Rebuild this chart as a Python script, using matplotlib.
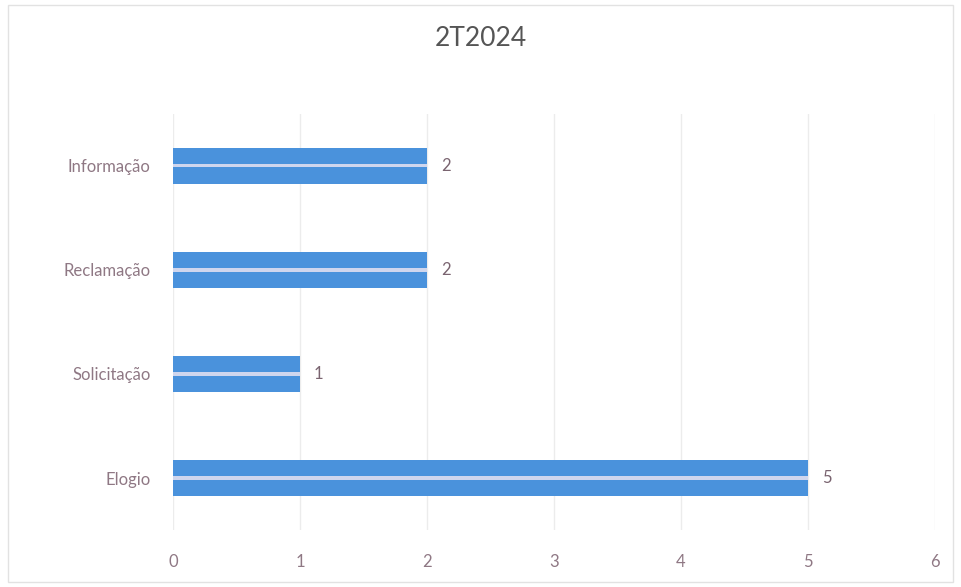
import matplotlib.pyplot as plt

# Data
categorias = ['Elogio', 'Solicitação', 'Reclamação', 'Informação']
valores = [5, 1, 2, 2]
ticks_x = [0, 1, 2, 3, 4, 5, 6]

plt.rcParams['font.family'] = ['Lato', 'DejaVu Sans']

fig = plt.figure(figsize=(9.61, 5.87), dpi=100)
ax = fig.add_axes([0.180, 0.097, 0.793, 0.709])

bars = ax.barh(categorias, valores, height=0.35, color='#4a92dc', zorder=3)
# faint light streak seen on the scanned bars
ax.barh(categorias, valores, height=0.03, left=0, color='#cfd6ee', zorder=4)

for b, v in zip(bars, valores):
    ax.text(v + 0.11, b.get_y() + b.get_height() / 2, str(v),
            va='center', ha='left', fontsize=12, color='#7a6470')

ax.set_xlim(0, 6)
ax.set_ylim(-0.5, 3.5)
ax.set_xticks(ticks_x)
ax.grid(axis='x', color='#ececec', linewidth=1, zorder=0)
for s in ax.spines.values():
    s.set_visible(False)
ax.tick_params(axis='both', length=0, labelsize=12, colors='#8f7884')
ax.tick_params(axis='x', pad=17)
ax.tick_params(axis='y', pad=16)

fig.text(0.5, 0.935, '2T2024', ha='center', va='center', fontsize=19, color='#555555')

# light frame around the chart
fig.patches.append(plt.Rectangle((0.008, 0.008), 0.984, 0.984, transform=fig.transFigure,
                                 fill=False, edgecolor='#e2e2e2', linewidth=1))

fig.savefig('out.png', dpi=100, facecolor='white')
